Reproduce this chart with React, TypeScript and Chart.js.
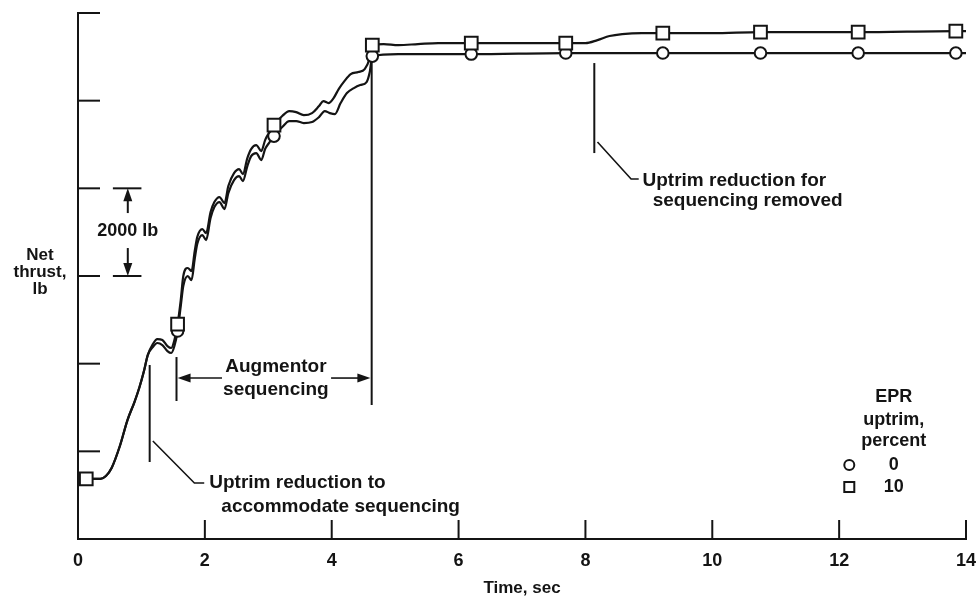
import React, { useEffect, useRef } from "react";
import { Chart, registerables } from "chart.js";

Chart.register(...registerables);

const INK = "#141414";
const FONT = '"Liberation Sans", Arial, Helvetica, sans-serif';

// Axis ticks
const timeTicks = [0, 2, 4, 6, 8, 10, 12, 14];
const thrustTicks = [2000, 4000, 6000, 8000, 10000, 12000, 14000];

// EPR uptrim 10 percent (square) curve: time, sec / net thrust, lb
const time10 = [
  0.13, 0.35, 0.44, 0.53, 0.66, 0.78, 0.89, 0.97, 1.04, 1.1, 1.18, 1.25, 1.33, 1.41, 1.47, 1.52, 1.57,
  1.62, 1.66, 1.73, 1.79, 1.84, 1.88, 1.96, 2.02, 2.09, 2.15, 2.23, 2.31, 2.37, 2.46, 2.54, 2.6, 2.67,
  2.73, 2.81, 2.89, 2.95, 3.01, 3.09, 3.22, 3.33, 3.44, 3.56, 3.69, 3.8, 3.87, 3.95, 4.03, 4.11, 4.2,
  4.3, 4.42, 4.52, 4.6, 4.64, 4.82, 5.05, 5.36, 5.68, 6.2, 6.93, 7.69, 8.0, 8.19, 8.38, 8.58, 8.89,
  9.22, 10.0, 10.76, 12.3, 13.84, 14.0,
];
const thrust10 = [
  3370, 3370, 3437, 3620, 4121, 4714, 5125, 5467, 5832, 6197, 6448, 6562, 6539, 6402, 6357, 6539, 6904,
  7452, 8000, 8182, 8113, 8569, 8889, 9071, 8980, 9459, 9687, 9801, 9664, 10052, 10348, 10440, 10326, 10691,
  10896, 10987, 10850, 11101, 11261, 11443, 11649, 11763, 11740, 11671, 11717, 11877, 11991, 11945, 12059, 12265, 12447,
  12607, 12652, 12721, 12972, 13268, 13291, 13268, 13291, 13314, 13314, 13314, 13314, 13314, 13382, 13474, 13519, 13542,
  13542, 13542, 13565, 13565, 13588, 13588,
];

// EPR uptrim 0 percent (circle) curve
const time0 = [
  0.13, 0.35, 0.44, 0.53, 0.66, 0.78, 0.89, 0.97, 1.04, 1.1, 1.18, 1.25, 1.33, 1.41, 1.47, 1.52, 1.57,
  1.62, 1.66, 1.73, 1.79, 1.84, 1.88, 1.96, 2.02, 2.09, 2.15, 2.23, 2.31, 2.37, 2.46, 2.54, 2.6, 2.67,
  2.73, 2.81, 2.89, 2.95, 3.01, 3.09, 3.22, 3.33, 3.44, 3.56, 3.69, 3.8, 3.89, 3.97, 4.05, 4.14, 4.24,
  4.35, 4.45, 4.55, 4.6, 4.64, 5.05, 6.2, 7.69, 9.22, 10.76, 12.3, 13.84, 14.0,
];
const thrust0 = [
  3370, 3370, 3437, 3620, 4121, 4714, 5125, 5467, 5832, 6197, 6380, 6471, 6425, 6288, 6243, 6402, 6744,
  7315, 7771, 7999, 7908, 8387, 8729, 8934, 8820, 9322, 9573, 9687, 9527, 9892, 10189, 10280, 10166, 10508,
  10736, 10805, 10645, 10896, 11033, 11192, 11398, 11535, 11535, 11489, 11512, 11626, 11763, 11717, 11694, 11945, 12173,
  12287, 12356, 12424, 12652, 13017, 13063, 13063, 13086, 13086, 13086, 13086, 13086, 13086,
];

// Symbol positions
const markerTime10 = [0.13, 1.57, 3.09, 4.64, 6.2, 7.69, 9.22, 10.76, 12.3, 13.84];
const markerThrust10 = [3370, 6904, 11443, 13268, 13314, 13314, 13542, 13565, 13565, 13588];
const markerTime0 = [1.57, 3.09, 4.64, 6.2, 7.69, 9.22, 10.76, 12.3, 13.84];
const markerThrust0 = [6744, 11192, 13017, 13063, 13086, 13086, 13086, 13086, 13086];

const pts = (xs: number[], ys: number[]) => xs.map((x, i) => ({ x, y: ys[i] }));

const overlay = {
  id: "overlay",
  afterDraw(chart: any) {
    const ctx = chart.ctx as CanvasRenderingContext2D;
    const xs = chart.scales.x;
    const ys = chart.scales.y;
    const X = (t: number) => xs.getPixelForValue(t);
    const Y = (v: number) => ys.getPixelForValue(v);
    const { left, bottom } = chart.chartArea;
    ctx.save();
    ctx.strokeStyle = INK;
    ctx.fillStyle = INK;
    ctx.lineWidth = 2;
    const seg = (x1: number, y1: number, x2: number, y2: number, w = 2) => {
      ctx.lineWidth = w;
      ctx.beginPath();
      ctx.moveTo(x1, y1);
      ctx.lineTo(x2, y2);
      ctx.stroke();
    };
    const poly = (p: number[][], w = 1.6) => {
      ctx.lineWidth = w;
      ctx.beginPath();
      p.forEach(([t, v], i) => (i ? ctx.lineTo(X(t), Y(v)) : ctx.moveTo(X(t), Y(v))));
      ctx.stroke();
    };
    const head = (x: number, y: number, dx: number, dy: number) => {
      const L = 13, H = 4.5;
      const px = -dy, py = dx;
      ctx.beginPath();
      ctx.moveTo(x, y);
      ctx.lineTo(x - dx * L + px * H, y - dy * L + py * H);
      ctx.lineTo(x - dx * L - px * H, y - dy * L - py * H);
      ctx.closePath();
      ctx.fill();
    };
    const text = (s: string, x: number, y: number, align: CanvasTextAlign, size = 19) => {
      ctx.font = `bold ${size}px ${FONT}`;
      ctx.textAlign = align;
      ctx.textBaseline = "middle";
      ctx.fillText(s, x, y);
    };

    // inner tick marks
    timeTicks.forEach((t) => {
      if (t > xs.min) seg(X(t), bottom, X(t), bottom - 19);
    });
    thrustTicks.forEach((v) => {
      if (v > ys.min) seg(left, Y(v), left + 22, Y(v));
    });

    // y-axis title
    const yl = ["Net", "thrust,", "lb"];
    yl.forEach((s, i) => text(s, left - 38, Y(8113) + (i - 1) * 17 + 1, "center", 17));

    // 2000 lb scale bar
    seg(X(0.55), Y(10000), X(1.0), Y(10000));
    seg(X(0.55), Y(8000), X(1.0), Y(8000));
    const bx = X(0.785);
    seg(bx, Y(10000) + 10, bx, Y(9436));
    head(bx, Y(10000), 0, -1);
    seg(bx, Y(8638), bx, Y(8000) - 10);
    head(bx, Y(8000), 0, 1);
    text("2000 lb", bx, Y(9025), "center", 18);

    // Uptrim reduction to accommodate sequencing
    seg(X(1.13), Y(5969), X(1.13), Y(3756));
    poly([[1.18, 4235], [1.835, 3277], [1.99, 3277]]);
    text("Uptrim reduction to", X(2.07), Y(3277), "left");
    text("accommodate sequencing", X(2.26), Y(2730), "left");

    // Augmentor sequencing
    seg(X(1.553), Y(6151), X(1.553), Y(5148));
    seg(X(1.57) + 10, Y(5672), X(2.27), Y(5672), 1.6);
    head(X(1.57), Y(5672), -1, 0);
    seg(X(3.99), Y(5672), X(4.61) - 10, Y(5672), 1.6);
    head(X(4.61), Y(5672), 1, 0);
    seg(X(4.63), Y(12880), X(4.63), Y(5057));
    text("Augmentor", X(3.12), Y(5923), "center");
    text("sequencing", X(3.12), Y(5399), "center");

    // Uptrim reduction for sequencing removed
    seg(X(8.14), Y(12858), X(8.14), Y(10805));
    poly([[8.19, 11056], [8.72, 10212], [8.84, 10212]]);
    text("Uptrim reduction for", X(8.9), Y(10166), "left");
    text("sequencing removed", X(9.06), Y(9710), "left");

    // legend
    const lx = X(12.86);
    text("EPR", lx, Y(5239), "center", 18);
    text("uptrim,", lx, Y(4714), "center", 18);
    text("percent", lx, Y(4235), "center", 18);
    const sx = X(12.16);
    ctx.lineWidth = 2;
    ctx.beginPath();
    ctx.arc(sx, Y(3688), 5, 0, Math.PI * 2);
    ctx.stroke();
    text("0", lx, Y(3688), "center", 18);
    ctx.lineWidth = 2;
    ctx.strokeRect(sx - 5, Y(3186) - 5, 10, 10);
    text("10", lx, Y(3186), "center", 18);
    ctx.restore();
  },
};

export default function App() {
  const ref = useRef<HTMLCanvasElement | null>(null);
  useEffect(() => {
    if (!ref.current) return;
    const lineDs = (xs: number[], ys: number[]) => ({
      data: pts(xs, ys),
      borderColor: INK,
      borderWidth: 2.2,
      pointRadius: 0,
      cubicInterpolationMode: "monotone" as const,
      fill: false,
    });
    const chart = new Chart(ref.current, {
      type: "line",
      data: {
        datasets: [
          {
            data: pts(markerTime10, markerThrust10),
            showLine: false,
            pointStyle: "rect",
            pointRadius: 9,
            pointBackgroundColor: "#ffffff",
            pointBorderColor: INK,
            pointBorderWidth: 2,
          },
          {
            data: pts(markerTime0, markerThrust0),
            showLine: false,
            pointStyle: "circle",
            pointRadius: 5.8,
            pointBackgroundColor: "#ffffff",
            pointBorderColor: INK,
            pointBorderWidth: 2,
          },
          lineDs(time10, thrust10),
          lineDs(time0, thrust0),
        ] as any,
      },
      options: {
        animation: false,
        responsive: false,
        events: [],
        layout: { padding: { left: 78, top: 13, right: 7, bottom: 0 } },
        plugins: { legend: { display: false }, tooltip: { enabled: false } },
        scales: {
          x: {
            type: "linear",
            min: 0,
            max: 14,
            afterBuildTicks: (s: any) => {
              s.ticks = timeTicks.map((v) => ({ value: v }));
            },
            ticks: {
              font: { family: FONT, size: 18, weight: "bold" },
              color: INK,
              padding: 11,
              maxRotation: 0,
              autoSkip: false,
            },
            grid: { display: false, drawTicks: false },
            border: { display: true, color: INK, width: 2 },
            title: {
              display: true,
              text: "Time, sec",
              font: { family: FONT, size: 17, weight: "bold" },
              color: INK,
              padding: { top: 2, bottom: 0 },
            },
            afterFit: (s: any) => {
              s.height = 60;
              s.paddingLeft = 0;
              s.paddingRight = 0;
            },
          },
          y: {
            type: "linear",
            min: 2000,
            max: 14000,
            ticks: { display: false },
            grid: { display: false, drawTicks: false },
            border: { display: true, color: INK, width: 2 },
            afterFit: (s: any) => {
              s.width = 0;
            },
          },
        },
      } as any,
      plugins: [overlay],
    });
    return () => chart.destroy();
  }, []);
  return (
    <div style={{ position: "fixed", left: 0, top: 0, width: 977, height: 599, background: "#fff" }}>
      <canvas ref={ref} width={977} height={599} style={{ display: "block" }} />
    </div>
  );
}
